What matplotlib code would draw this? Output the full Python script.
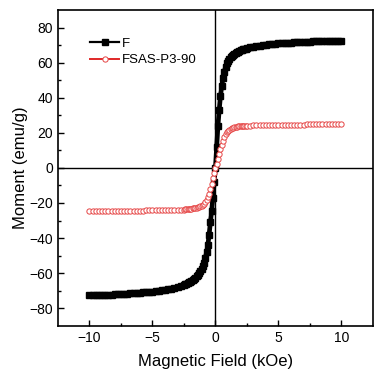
import numpy as np
import matplotlib
matplotlib.use('Agg')
import matplotlib.pyplot as plt

plt.rcParams['font.family'] = ['Liberation Sans', 'DejaVu Sans']

# applied field (kOe), shared by both samples
field = [-10.0, -9.75, -9.5, -9.25, -9.0, -8.75, -8.5, -8.25, -8.0, -7.75, -7.5,
         -7.25, -7.0, -6.75, -6.5, -6.25, -6.0, -5.75, -5.5, -5.25, -5.0, -4.75,
         -4.5, -4.25, -4.0, -3.75, -3.5, -3.25, -3.0, -2.75, -2.5,
         -2.4, -2.3, -2.2, -2.1, -2.0, -1.9, -1.8, -1.7, -1.6, -1.5, -1.4, -1.3,
         -1.2, -1.1, -1.0, -0.9, -0.8, -0.7, -0.6, -0.5, -0.4, -0.3, -0.2, -0.1,
         0.0, 0.1, 0.2, 0.3, 0.4, 0.5, 0.6, 0.7, 0.8, 0.9, 1.0, 1.1, 1.2, 1.3,
         1.4, 1.5, 1.6, 1.7, 1.8, 1.9, 2.0, 2.1, 2.2, 2.3, 2.4,
         2.5, 2.75, 3.0, 3.25, 3.5, 3.75, 4.0, 4.25, 4.5, 4.75, 5.0, 5.25, 5.5,
         5.75, 6.0, 6.25, 6.5, 6.75, 7.0, 7.25, 7.5, 7.75, 8.0, 8.25, 8.5, 8.75,
         9.0, 9.25, 9.5, 9.75, 10.0]

moment_f = [-72.65, -72.6, -72.5, -72.45, -72.4, -72.3, -72.25, -72.15, -72.05,
            -71.95, -71.85, -71.75, -71.65, -71.55, -71.45, -71.3, -71.15, -71.0,
            -70.85, -70.7, -70.5, -70.3, -70.05, -69.8, -69.5, -69.2, -68.8,
            -68.4, -67.9, -67.3, -66.6,
            -66.3, -66.0, -65.6, -65.2, -64.8, -64.3, -63.8, -63.2, -62.6, -61.8,
            -61.0, -60.1, -59.0, -57.6, -56.0, -54.0, -51.5, -48.0, -44.0, -38.0,
            -31.0, -24.5, -17.0, -8.0,
            0.0, 12.0, 24.0, 33.0, 41.0, 46.5, 51.0, 54.5, 57.5, 59.5, 61.0, 62.1,
            63.0, 63.8, 64.5, 65.0, 65.5, 65.9, 66.3, 66.7, 67.0, 67.3, 67.5,
            67.8, 68.0,
            68.2, 68.7, 69.1, 69.4, 69.7, 70.0, 70.2, 70.4, 70.6, 70.8, 70.95,
            71.1, 71.2, 71.35, 71.45, 71.55, 71.65, 71.75, 71.85, 71.9, 72.0,
            72.05, 72.1, 72.2, 72.25, 72.3, 72.35, 72.4, 72.45, 72.5, 72.5]

moment_fsas = [-24.8, -24.8, -24.75, -24.75, -24.7, -24.7, -24.65, -24.65, -24.6,
               -24.6, -24.55, -24.5, -24.5, -24.45, -24.4, -24.4, -24.35, -24.3,
               -24.25, -24.2, -24.2, -24.15, -24.1, -24.05, -24.0, -23.95, -23.9,
               -23.85, -23.8, -23.8, -23.75,
               -23.7, -23.65, -23.55, -23.5, -23.4, -23.25, -23.1, -23.0, -22.8,
               -22.6, -22.4, -22.2, -21.9, -21.5, -21.1, -20.5, -19.7, -18.5,
               -16.8, -14.6, -12.0, -8.9, -5.8, -2.8,
               0.0, 2.5, 5.2, 7.9, 10.5, 13.1, 15.4, 17.5, 19.1, 20.3, 21.2, 21.8,
               22.3, 22.6, 22.9, 23.1, 23.3, 23.45, 23.6, 23.7, 23.8, 23.85, 23.9,
               24.0, 24.05,
               24.1, 24.15, 24.2, 24.25, 24.3, 24.35, 24.4, 24.4, 24.45, 24.5, 24.5,
               24.55, 24.55, 24.6, 24.6, 24.65, 24.65, 24.7, 24.7, 24.75, 24.75,
               24.8, 24.8, 24.8, 24.85, 24.85, 24.85, 24.9, 24.9, 24.9, 24.9]

assert len(field) == len(moment_f) == len(moment_fsas)

fig = plt.figure(figsize=(3.74, 3.69), dpi=100)
ax = fig.add_axes([0.155, 0.117, 0.842, 0.856])

ax.axhline(0, color='black', lw=1.0, zorder=1)
ax.axvline(0, color='black', lw=1.0, zorder=1)

ax.plot(field, moment_f, color='black', lw=3.4, marker='s', ms=4.0,
        label='F', zorder=3)
ax.plot(field, moment_fsas, color='#e64545', lw=0.8, marker='o', ms=3.8,
        mfc='white', mec='#e64545', mew=0.7, label='FSAS-P3-90', zorder=4)

ax.set_xlim(-12.5, 12.5)
ax.set_ylim(-90, 90)
ax.set_xticks([-10, -5, 0, 5, 10])
ax.set_xticks([-7.5, -2.5, 2.5, 7.5], minor=True)
ax.set_yticks(range(-80, 81, 20))
ax.set_yticks(range(-70, 71, 20), minor=True)
ax.tick_params(direction='in', which='major', length=4, width=1.0, labelsize=10)
ax.tick_params(direction='in', which='minor', length=2.5, width=1.0)
for s in ax.spines.values():
    s.set_linewidth(1.2)

ax.set_xlabel('Magnetic Field (kOe)', fontsize=12, labelpad=7)
ax.set_ylabel('Moment (emu/g)', fontsize=12, labelpad=1)

# legend handles only, no frame
leg = ax.legend(loc='upper left', bbox_to_anchor=(0.085, 0.93), frameon=False,
                fontsize=9.5, handlelength=2.2, handletextpad=0.2,
                labelspacing=0.35, borderaxespad=0)
leg.get_lines()[0].set_linewidth(1.6)
leg.get_lines()[1].set_linewidth(1.4)
leg.get_lines()[1].set_color('#e02828')

fig.savefig('out.png', dpi=100)
